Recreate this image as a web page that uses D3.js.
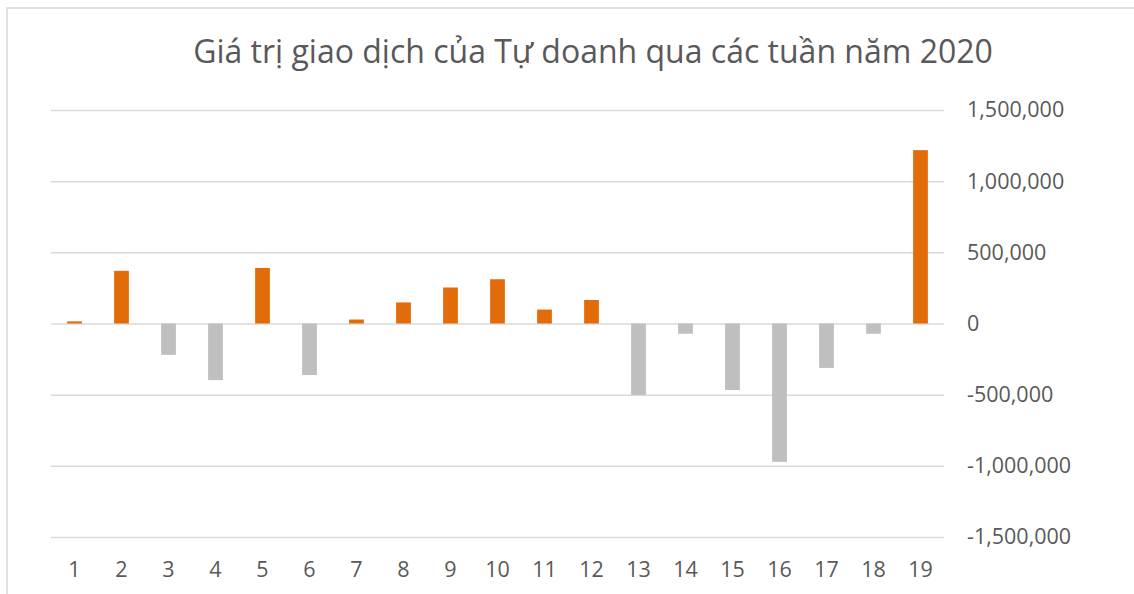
<!DOCTYPE html>
<html>
<head>
<meta charset="utf-8">
<script src="https://cdn.jsdelivr.net/npm/d3@7"></script>
<style>
  html, body { margin: 0; padding: 0; background: #fff; overflow: hidden; }
  svg { display: block; }
</style>
</head>
<body>
<script>
'use strict';

// chart data
const weeks = ["1", "2", "3", "4", "5", "6", "7", "8", "9", "10", "11", "12", "13", "14", "15", "16", "17", "18", "19"];
const tradeValues = [15000, 370000, -220000, -398000, 390000, -362000, 28000, 148000, 253000, 311000,
  98000, 165000, -502000, -72000, -467000, -972000, -312000, -72000, 1218000];
const yTicks = [-1500000, -1000000, -500000, 0, 500000, 1000000, 1500000];
const chartTitle = "Giá trị giao dịch của Tự doanh qua các tuần năm 2020";

const width = 1134, height = 594;
const plot = { left: 51, right: 944, top: 110, bottom: 537 };
const fontFamily = "'Open Sans', 'Noto Sans', sans-serif";
const textColor = "#595959";
const gridColor = "#d9d9d9";

// hyphen minus like the original, not the unicode minus sign
const fmt = d3.formatLocale({ decimal: ".", thousands: ",", grouping: [3], currency: ["", ""], minus: "-" }).format(",");

const svg = d3.select("body")
  .append("svg")
  .attr("width", width)
  .attr("height", height);

// chart frame
svg.append("rect")
  .attr("x", 7)
  .attr("y", 8)
  .attr("width", 1140)
  .attr("height", 600)
  .attr("fill", "none")
  .attr("stroke", gridColor)
  .attr("stroke-width", 1.5);

const x = d3.scaleBand()
  .domain(weeks)
  .range([plot.left, plot.right])
  .paddingInner(0.686)
  .paddingOuter(0.343);

const y = d3.scaleLinear()
  .domain([-1500000, 1500000])
  .range([plot.bottom, plot.top]);

// gridlines + labels on the right
const yAxis = d3.axisRight(y)
  .tickValues(yTicks)
  .tickFormat(fmt)
  .tickSize(-(plot.right - plot.left))
  .tickPadding(23);

const yg = svg.append("g")
  .attr("transform", "translate(" + plot.right + ",0)")
  .call(yAxis);
yg.select(".domain").remove();
yg.selectAll(".tick line")
  .attr("stroke", gridColor)
  .attr("stroke-width", 1.5);
yg.selectAll(".tick text")
  .attr("fill", textColor)
  .style("font-family", fontFamily)
  .style("font-size", "21.5px");

// category labels
const xg = svg.append("g")
  .attr("transform", "translate(0," + plot.bottom + ")")
  .call(d3.axisBottom(x).tickSize(0).tickPadding(25));
xg.select(".domain").remove();
xg.selectAll(".tick text")
  .attr("fill", textColor)
  .style("font-family", fontFamily)
  .style("font-size", "21.5px");

// bars
svg.append("g")
  .selectAll("rect")
  .data(tradeValues)
  .enter()
  .append("rect")
    .attr("x", (d, i) => x(weeks[i]))
    .attr("width", x.bandwidth())
    .attr("y", d => y(Math.max(0, d)))
    .attr("height", d => Math.abs(y(d) - y(0)))
    .attr("fill", d => d >= 0 ? "#e36c0a" : "#bfbfbf");

// title
svg.append("text")
  .attr("x", 593)
  .attr("y", 63)
  .attr("text-anchor", "middle")
  .attr("fill", textColor)
  .style("font-family", fontFamily)
  .style("font-size", "32px")
  .text(chartTitle);
</script>
</body>
</html>
